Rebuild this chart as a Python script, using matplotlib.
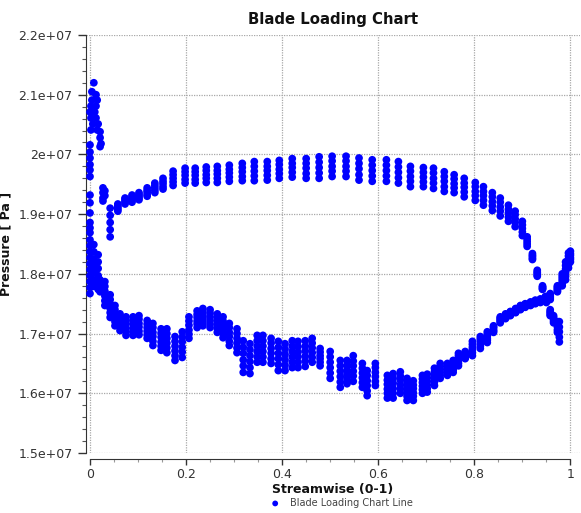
import matplotlib
matplotlib.use("Agg")
import matplotlib.pyplot as plt
from matplotlib.ticker import MultipleLocator, FuncFormatter
import numpy as np

# ---------------- data (pressure in units of 1e6 Pa) ----------------
# upper branch columns (streamwise stations) with 5 span-level values each
ps_s = [0.042, 0.058, 0.073, 0.0875, 0.102, 0.119, 0.135, 0.152, 0.173, 0.198,
        0.219, 0.242, 0.265, 0.29, 0.317, 0.342, 0.369, 0.394, 0.421, 0.45,
        0.477, 0.504, 0.533, 0.56, 0.5875, 0.617, 0.642, 0.667, 0.694, 0.715,
        0.7375, 0.758, 0.779, 0.802, 0.819, 0.8375, 0.854, 0.871, 0.885, 0.90,
        0.91, 0.921, 0.931, 0.942, 0.95, 0.958, 0.965, 0.973, 0.977]
ps_p1 = [19.10, 19.17, 19.27, 19.32, 19.36, 19.44, 19.52, 19.60, 19.72, 19.77,
         19.77, 19.79, 19.80, 19.82, 19.85, 19.88, 19.88, 19.90, 19.93, 19.93,
         19.96, 19.97, 19.97, 19.94, 19.91, 19.91, 19.88, 19.80, 19.78, 19.77,
         19.71, 19.66, 19.60, 19.53, 19.46, 19.36, 19.27, 19.15, 19.05, 18.88,
         18.62, 18.34, 18.06, 17.80, 17.62, 17.40, 17.30, 17.20, 17.20]
ps_p2 = [18.98, 19.14, 19.25, 19.29, 19.33, 19.40, 19.48, 19.55, 19.66, 19.71,
         19.71, 19.73, 19.73, 19.75, 19.78, 19.80, 19.80, 19.83, 19.85, 19.85,
         19.87, 19.89, 19.89, 19.85, 19.82, 19.82, 19.79, 19.72, 19.70, 19.69,
         19.63, 19.59, 19.52, 19.46, 19.38, 19.29, 19.20, 19.08, 18.99, 18.82,
         18.58, 18.31, 18.03, 17.78, 17.60, 17.37, 17.27, 17.15, 17.11]
ps_p3 = [18.86, 19.11, 19.22, 19.26, 19.30, 19.37, 19.44, 19.51, 19.60, 19.65,
         19.65, 19.66, 19.67, 19.69, 19.71, 19.72, 19.73, 19.75, 19.78, 19.77,
         19.78, 19.80, 19.80, 19.76, 19.73, 19.73, 19.70, 19.63, 19.62, 19.60,
         19.55, 19.51, 19.45, 19.38, 19.31, 19.21, 19.12, 19.02, 18.92, 18.76,
         18.54, 18.29, 18.01, 17.77, 17.57, 17.35, 17.24, 17.11, 17.03]
ps_p4 = [18.74, 19.08, 19.20, 19.23, 19.27, 19.33, 19.40, 19.46, 19.54, 19.58,
         19.58, 19.60, 19.60, 19.62, 19.63, 19.64, 19.65, 19.68, 19.70, 19.68,
         19.69, 19.72, 19.72, 19.66, 19.64, 19.64, 19.61, 19.55, 19.54, 19.52,
         19.46, 19.44, 19.37, 19.31, 19.23, 19.14, 19.05, 18.95, 18.86, 18.70,
         18.50, 18.26, 17.98, 17.75, 17.55, 17.32, 17.21, 17.06, 16.94]
ps_p5 = [18.62, 19.05, 19.17, 19.20, 19.24, 19.30, 19.36, 19.42, 19.48, 19.52,
         19.52, 19.53, 19.53, 19.55, 19.56, 19.56, 19.57, 19.60, 19.62, 19.60,
         19.60, 19.63, 19.63, 19.57, 19.55, 19.55, 19.52, 19.46, 19.46, 19.43,
         19.38, 19.36, 19.29, 19.23, 19.15, 19.06, 18.97, 18.88, 18.79, 18.64,
         18.46, 18.24, 17.96, 17.74, 17.52, 17.30, 17.18, 17.02, 16.86]

# lower branch columns with 6 span-level values each
ss_s = [0.021, 0.031, 0.042, 0.052, 0.0625, 0.075, 0.0896, 0.102, 0.119, 0.131,
        0.148, 0.160, 0.177, 0.192, 0.206, 0.223, 0.235, 0.25, 0.265, 0.277,
        0.29, 0.306, 0.319, 0.333, 0.348, 0.36, 0.377, 0.392, 0.406, 0.421,
        0.433, 0.448, 0.4625, 0.479, 0.5, 0.521, 0.535, 0.548, 0.567, 0.577,
        0.594, 0.619, 0.631, 0.646, 0.660, 0.673, 0.692, 0.702, 0.717, 0.729,
        0.744, 0.756, 0.767, 0.781, 0.796, 0.8125, 0.827, 0.840, 0.854, 0.875,
        0.896, 0.917, 0.9375, 0.958, 0.973, 0.983, 0.99, 0.996, 1.0,
        0.865, 0.886, 0.906, 0.927, 0.948]
ss_p1 = [17.90, 17.87, 17.65, 17.47, 17.33, 17.28, 17.28, 17.30, 17.22, 17.17,
         17.08, 17.08, 16.95, 17.03, 17.28, 17.38, 17.42, 17.40, 17.33, 17.28,
         17.17, 17.08, 16.88, 16.83, 16.97, 16.97, 16.92, 16.87, 16.83, 16.88,
         16.87, 16.88, 16.92, 16.75, 16.70, 16.55, 16.55, 16.63, 16.50, 16.38,
         16.50, 16.30, 16.33, 16.36, 16.25, 16.21, 16.30, 16.32, 16.42, 16.50,
         16.50, 16.55, 16.67, 16.70, 16.87, 16.95, 17.03, 17.13, 17.28, 17.37,
         17.47, 17.53, 17.58, 17.67, 17.80, 18.00, 18.20, 18.35, 18.38,
         17.33, 17.42, 17.50, 17.56, 17.62]
ss_p2 = [17.86, 17.79, 17.57, 17.40, 17.27, 17.22, 17.22, 17.24, 17.16, 17.10,
         17.01, 17.00, 16.87, 16.94, 17.21, 17.32, 17.36, 17.34, 17.27, 17.21,
         17.10, 17.00, 16.77, 16.73, 16.88, 16.88, 16.84, 16.77, 16.74, 16.79,
         16.78, 16.79, 16.84, 16.69, 16.61, 16.46, 16.47, 16.54, 16.42, 16.30,
         16.43, 16.22, 16.25, 16.29, 16.18, 16.14, 16.24, 16.26, 16.36, 16.45,
         16.46, 16.51, 16.63, 16.68, 16.82, 16.91, 16.99, 17.11, 17.26, 17.36,
         17.46, 17.52, 17.57, 17.65, 17.78, 17.96, 18.14, 18.30, 18.34,
         17.31, 17.41, 17.49, 17.55, 17.61]
ss_p3 = [17.82, 17.71, 17.50, 17.33, 17.22, 17.16, 17.16, 17.17, 17.10, 17.02,
         16.94, 16.92, 16.79, 16.86, 17.14, 17.27, 17.30, 17.28, 17.21, 17.14,
         17.02, 16.92, 16.67, 16.63, 16.79, 16.79, 16.75, 16.67, 16.65, 16.70,
         16.69, 16.71, 16.76, 16.63, 16.52, 16.37, 16.39, 16.46, 16.34, 16.21,
         16.35, 16.15, 16.17, 16.22, 16.10, 16.08, 16.18, 16.20, 16.30, 16.40,
         16.42, 16.47, 16.59, 16.65, 16.77, 16.87, 16.96, 17.09, 17.24, 17.34,
         17.44, 17.51, 17.56, 17.63, 17.76, 17.92, 18.08, 18.25, 18.31,
         17.30, 17.39, 17.48, 17.54, 17.59]
ss_p4 = [17.78, 17.63, 17.42, 17.27, 17.16, 17.09, 17.09, 17.11, 17.04, 16.95,
         16.86, 16.84, 16.71, 16.77, 17.06, 17.21, 17.25, 17.22, 17.14, 17.07,
         16.95, 16.84, 16.56, 16.53, 16.70, 16.70, 16.67, 16.58, 16.56, 16.61,
         16.61, 16.62, 16.68, 16.58, 16.43, 16.28, 16.32, 16.37, 16.26, 16.13,
         16.28, 16.07, 16.08, 16.14, 16.03, 16.01, 16.12, 16.14, 16.25, 16.35,
         16.38, 16.43, 16.55, 16.63, 16.73, 16.83, 16.92, 17.06, 17.22, 17.33,
         17.43, 17.49, 17.54, 17.61, 17.74, 17.88, 18.02, 18.20, 18.27,
         17.28, 17.38, 17.46, 17.52, 17.58]
ss_p5 = [17.74, 17.55, 17.35, 17.20, 17.11, 17.03, 17.03, 17.04, 16.98, 16.87,
         16.79, 16.76, 16.63, 16.69, 16.99, 17.16, 17.19, 17.16, 17.08, 17.00,
         16.87, 16.76, 16.46, 16.43, 16.61, 16.61, 16.58, 16.48, 16.47, 16.52,
         16.52, 16.54, 16.60, 16.52, 16.34, 16.19, 16.24, 16.29, 16.18, 16.04,
         16.20, 16.00, 16.00, 16.07, 15.95, 15.95, 16.06, 16.08, 16.19, 16.30,
         16.34, 16.39, 16.50, 16.60, 16.68, 16.79, 16.89, 17.04, 17.20, 17.31,
         17.41, 17.48, 17.53, 17.59, 17.72, 17.84, 17.96, 18.15, 18.24,
         17.27, 17.36, 17.45, 17.51, 17.56]
ss_p6 = [17.70, 17.47, 17.27, 17.13, 17.05, 16.97, 16.97, 16.98, 16.92, 16.80,
         16.72, 16.68, 16.55, 16.60, 16.92, 17.10, 17.13, 17.10, 17.02, 16.93,
         16.80, 16.68, 16.35, 16.33, 16.52, 16.52, 16.50, 16.38, 16.38, 16.43,
         16.43, 16.45, 16.52, 16.46, 16.25, 16.10, 16.16, 16.20, 16.10, 15.96,
         16.13, 15.92, 15.92, 16.00, 15.88, 15.88, 16.00, 16.02, 16.13, 16.25,
         16.30, 16.35, 16.46, 16.58, 16.63, 16.75, 16.85, 17.02, 17.18, 17.30,
         17.40, 17.47, 17.52, 17.57, 17.70, 17.80, 17.90, 18.10, 18.20,
         17.25, 17.35, 17.44, 17.50, 17.55]

# leading-edge cluster
le_s = [0.008, 0.004, 0.0125, 0.004, 0.015, 0.002, 0.0125, 0.0, 0.010, 0.002,
        0.0125, 0.006, 0.017, 0.002, 0.015, 0.021, 0.021, 0.023, 0.021,
        0.0, 0.0, 0.0, 0.0, 0.0, 0.0, 0.0, 0.0, 0.0, 0.0, 0.0, 0.0,
        0.027, 0.027, 0.027, 0.027, 0.031, 0.031,
        0.0, 0.0, 0.0, 0.0, 0.0, 0.0, 0.0, 0.0, 0.0, 0.0,
        0.008, 0.008, 0.008, 0.008, 0.008, 0.008, 0.008,
        0.017, 0.017, 0.017, 0.017, 0.017, 0.017]
le_p = [21.20, 21.05, 21.00, 20.91, 20.91, 20.81, 20.81, 20.71, 20.71, 20.61,
        20.61, 20.51, 20.51, 20.41, 20.41, 20.38, 20.28, 20.18, 20.13,
        20.16, 20.04, 19.94, 19.83, 19.74, 19.63, 19.32, 19.19, 19.02, 18.86, 18.77, 18.69,
        19.44, 19.36, 19.27, 19.22, 19.39, 19.31,
        18.57, 18.47, 18.37, 18.27, 18.17, 18.07, 17.97, 17.87, 17.77, 17.67,
        18.49, 18.37, 18.25, 18.14, 18.02, 17.90, 17.79,
        18.32, 18.20, 18.09, 17.97, 17.85, 17.74]

title = "Blade Loading Chart"
xlabel = "Streamwise (0-1)"
ylabel = "Pressure [ Pa ]"
series_name = "Blade Loading Chart Line"

# ---------------- assemble ----------------
xs = list(le_s)
ys = list(le_p)
for arr in (ps_p1, ps_p2, ps_p3, ps_p4, ps_p5):
    xs += ps_s
    ys += arr
for arr in (ss_p1, ss_p2, ss_p3, ss_p4, ss_p5, ss_p6):
    xs += ss_s
    ys += arr
xs = np.array(xs)
ys = np.array(ys) * 1e6

plt.rcParams['font.family'] = ['DejaVu Sans']
fig = plt.figure(figsize=(5.81, 5.13), dpi=100)
ax = fig.add_axes([86 / 581, 1 - 453 / 513, (580 - 86) / 581, (453 - 35) / 513])

ax.scatter(xs, ys, s=31, color='#0000ff', edgecolors='none', zorder=3,
           label=series_name)

ax.set_xlim(-0.0083, 1.02)
ax.set_ylim(1.5e7, 2.2e7)

ax.xaxis.set_major_locator(MultipleLocator(0.2))
ax.xaxis.set_minor_locator(MultipleLocator(0.05))
ax.yaxis.set_major_locator(MultipleLocator(1e6))
ax.yaxis.set_minor_locator(MultipleLocator(2e5))
ax.xaxis.set_major_formatter(FuncFormatter(lambda v, p: "%g" % round(v, 6)))
ax.yaxis.set_major_formatter(FuncFormatter(lambda v, p: "%g" % v))

for sp in ('top', 'right'):
    ax.spines[sp].set_visible(False)
ax.spines['left'].set_color('#333333')
ax.spines['bottom'].set_color('#333333')
ax.spines['bottom'].set_position(('outward', 4.3))
ax.spines['bottom'].set_bounds(0, 1)

ax.tick_params(axis='y', which='major', length=5.8, width=1, color='#333333',
               labelsize=9, labelcolor='#333333', pad=3.8)
ax.tick_params(axis='y', which='minor', length=2.9, width=0.8, color='#555555')
ax.tick_params(axis='x', which='major', length=4.3, width=1, color='#333333',
               labelsize=9, labelcolor='#333333', pad=2.2)
ax.tick_params(axis='x', which='minor', length=2.2, width=0.8, color='#999999')

ax.grid(True, which='major', color='#a8a8a8', linestyle=(0, (1, 1)), linewidth=0.9)
ax.set_axisbelow(True)

ax.set_title(title, fontsize=10.7, fontweight='bold', pad=8, color='#111111')
ax.set_xlabel(xlabel, fontsize=9, fontweight='bold', labelpad=1.5, color='#111111')
ax.set_ylabel(ylabel, fontsize=9, fontweight='bold', labelpad=4, color='#111111')

fig.legend(loc='center', bbox_to_anchor=(341 / 581, 1 - 503 / 513), frameon=False,
           fontsize=7, labelcolor='#444444', handletextpad=0.9, markerscale=0.75,
           handlelength=1.2)

fig.savefig("out.png", dpi=100)
